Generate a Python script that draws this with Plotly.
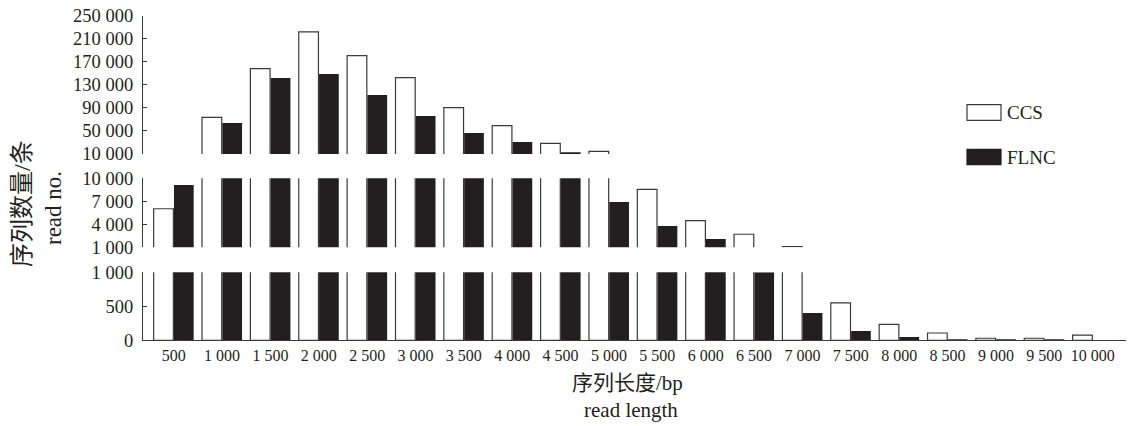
import plotly.graph_objects as go

# ---------------- data ----------------
categories = ["500", "1 000", "1 500", "2 000", "2 500", "3 000", "3 500", "4 000", "4 500", "5 000",
              "5 500", "6 000", "6 500", "7 000", "7 500", "8 000", "8 500", "9 000", "9 500", "10 000"]
ccs = [6030, 73500, 158000, 221800, 180700, 142500, 90400, 59100, 28500, 14700,
       8560, 4470, 2700, 1080, 550, 235, 107, 30, 30, 75]
flnc = [9120, 63800, 142000, 148900, 112400, 76000, 46500, 30800, 13000, 6900,
        3780, 2080, 1000, 400, 137, 49, 3, 3, 3, 0]

top_ticks = [10000, 50000, 90000, 130000, 170000, 210000, 250000]
top_labels = ["10 000", "50 000", "90 000", "130 000", "170 000", "210 000", "250 000"]
mid_ticks = [1000, 4000, 7000, 10000]
mid_labels = ["1 000", "4 000", "7 000", "10 000"]
low_ticks = [0, 500, 1000]
low_labels = ["0", "500", "1 000"]

series_names = ["CCS", "FLNC"]

# ---------------- styling ----------------
W, H = 1131, 426
FONT = "Liberation Serif, Times New Roman, Noto Sans CJK SC, serif"
BLACK = "#231f20"
LINE = "#3a3a3a"


def px_x(x):
    return x / W


def px_y(y):
    return 1 - y / H


fig = go.Figure()

panels = [
    ("y", [10000, 250000], top_ticks, top_labels, (15.7, 154.0)),
    ("y2", [1000, 10000], mid_ticks, mid_labels, (178.3, 247.3)),
    ("y3", [0, 1000], low_ticks, low_labels, (272.3, 340.3)),
]

for yref, rng, tv, tt, (ytop, ybot) in panels:
    fig.add_trace(go.Bar(x=categories, y=ccs, name=series_names[0], xaxis="x", yaxis=yref,
                         marker=dict(color="white", line=dict(color=LINE, width=1.2)),
                         showlegend=False))
    fig.add_trace(go.Bar(x=categories, y=flnc, name=series_names[1], xaxis="x", yaxis=yref,
                         marker=dict(color=BLACK, line=dict(color=BLACK, width=0)),
                         showlegend=False))

yaxis_common = dict(showgrid=False, zeroline=False, showline=True, linecolor=LINE, linewidth=1.2,
                    ticks="inside", ticklen=4, tickcolor=LINE, tickwidth=1.2,
                    ticklabelstandoff=5,
                    tickfont=dict(family=FONT, size=18.5, color="#231f20"),
                    anchor="x", automargin=False, fixedrange=True)

layout_axes = {}
for i, (yref, rng, tv, tt, (ytop, ybot)) in enumerate(panels):
    name = "yaxis" if yref == "y" else "yaxis" + yref[1:]
    layout_axes[name] = dict(yaxis_common, range=rng, tickvals=tv, ticktext=tt,
                             domain=[px_y(ybot), px_y(ytop)])

fig.update_layout(
    width=W, height=H,
    margin=dict(l=0, r=0, t=0, b=0),
    paper_bgcolor="white", plot_bgcolor="white",
    barmode="group", bargap=0.16, bargroupgap=0.03,
    xaxis=dict(domain=[px_x(143), px_x(1126)], anchor="y3", type="category",
               range=[-0.634, 19.69], showgrid=False, zeroline=False,
               showline=True, linecolor=LINE, linewidth=1.2, ticks="",
               tickfont=dict(family=FONT, size=16, color="#231f20"),
               automargin=False, fixedrange=True),
    **layout_axes,
)

# axis titles
title_font = dict(family=FONT, size=21, color="#231f20")
fig.add_annotation(text="序列长度/bp", x=px_x(627), y=px_y(383), xref="paper", yref="paper",
                   showarrow=False, font=title_font, xanchor="center", yanchor="middle")
fig.add_annotation(text="read length", x=px_x(631), y=px_y(410), xref="paper", yref="paper",
                   showarrow=False, font=title_font, xanchor="center", yanchor="middle")
fig.add_annotation(text="序列数量/条", x=px_x(22), y=px_y(204), xref="paper", yref="paper",
                   showarrow=False, font=dict(family=FONT, size=24, color="#231f20"),
                   textangle=-90, xanchor="center", yanchor="middle")
fig.add_annotation(text="read no.", x=px_x(54), y=px_y(208), xref="paper", yref="paper",
                   showarrow=False, font=dict(family=FONT, size=23, color="#231f20"),
                   textangle=-90, xanchor="center", yanchor="middle")

# legend (drawn manually)
legend_items = [(series_names[0], "white", 104.7, 120.3), (series_names[1], BLACK, 149.3, 164.7)]
for label, fill, y0, y1 in legend_items:
    fig.add_shape(type="rect", xref="paper", yref="paper",
                  x0=px_x(967), x1=px_x(1001), y0=px_y(y1), y1=px_y(y0),
                  fillcolor=fill, line=dict(color=LINE if fill == "white" else BLACK, width=1.2))
    fig.add_annotation(text=label, x=px_x(1005), y=px_y((y0 + y1) / 2), xref="paper", yref="paper",
                       showarrow=False, xanchor="left", yanchor="middle",
                       font=dict(family=FONT, size=19, color="#231f20"))

fig.write_html("out.html", config={"displayModeBar": False},
               post_script="document.body.style.margin='0';document.body.style.padding='0';")
